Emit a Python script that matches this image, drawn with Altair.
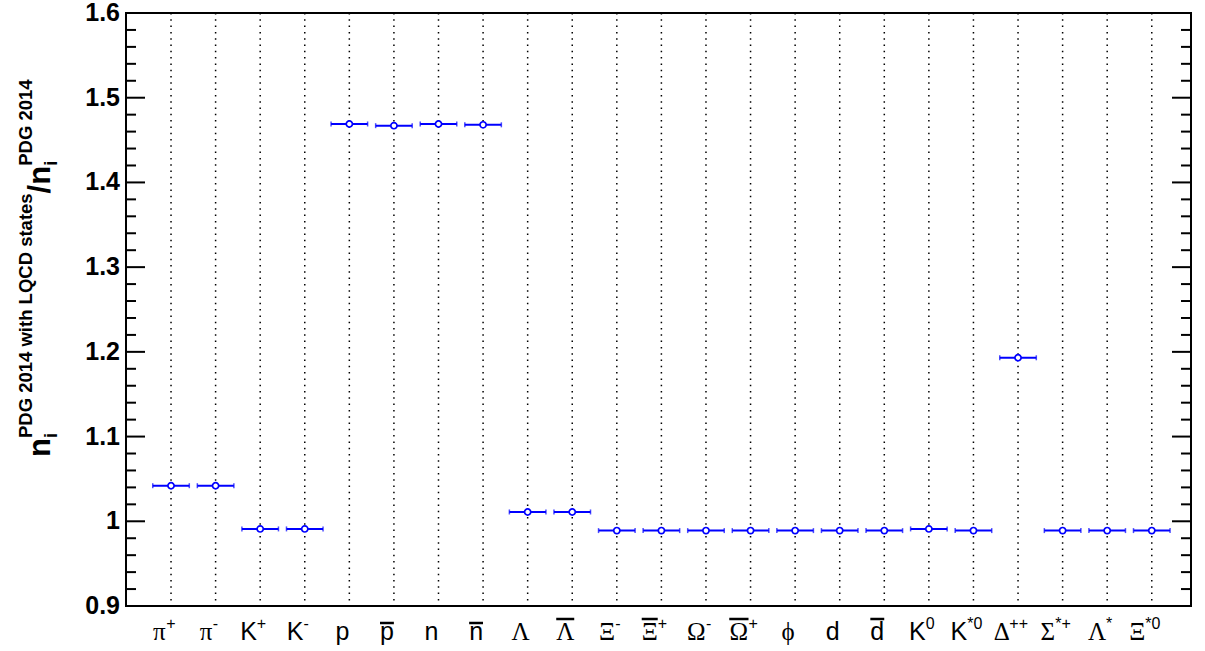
import altair as alt
import numpy as np
import pandas as pd

# Particle species: base glyph, superscript, and whether the glyph carries an overline (antiparticle)
label_base = ["π", "π", "K", "K", "p", "p", "n", "n", "Λ", "Λ", "Ξ", "Ξ",
              "Ω", "Ω", "ϕ", "d", "d", "K", "K", "Δ", "Σ", "Λ", "Ξ"]
label_sup = ["+", "-", "+", "-", "", "", "", "", "", "", "-", "+",
             "-", "+", "", "", "", "0", "*0", "++", "*+", "*", "*0"]
label_bar = [False, False, False, False, False, True, False, True, False, True, False, True,
             False, True, False, False, True, False, False, False, False, False, False]

# Density ratio n_i(PDG2014 + LQCD states) / n_i(PDG2014)
ratio = [1.042, 1.042, 0.991, 0.991, 1.469, 1.467, 1.469, 1.468, 1.011, 1.011, 0.989, 0.989,
         0.989, 0.989, 0.989, 0.989, 0.989, 0.991, 0.989, 1.193, 0.989, 0.989, 0.989]

y_major = [0.9, 1.0, 1.1, 1.2, 1.3, 1.4, 1.5, 1.6]
y_major_labels = ["0.9", "1", "1.1", "1.2", "1.3", "1.4", "1.5", "1.6"]

# ---- layout -------------------------------------------------------------
W, H = 1065, 593
X_DOMAIN = [-1.01, 22.88]
Y_DOMAIN = [0.9, 1.6]
PX = W / (X_DOMAIN[1] - X_DOMAIN[0])   # pixels per category step
BLUE = "#0000ff"
SANS = "Liberation Sans"
SERIF = "Liberation Serif"

xs = alt.Scale(domain=X_DOMAIN, nice=False, zero=False)
ys = alt.Scale(domain=Y_DOMAIN, nice=False, zero=False)

idx = list(range(len(ratio)))
pts = pd.DataFrame({
    "i": idx,
    "ratio": ratio,
    "lo": [i - 0.41 for i in idx],
    "hi": [i + 0.41 for i in idx],
})

# ---- vertical dotted grid at each species --------------------------------
grid = alt.Chart(pts).mark_rule(color="black", strokeWidth=1.5, strokeDash=[1.5, 4.8]).encode(
    x=alt.X("i:Q", scale=xs, axis=None),
    y=alt.value(0), y2=alt.value(H),
)

# ---- horizontal error bars with end caps and open markers ----------------
bars = alt.Chart(pts).mark_rule(color=BLUE, strokeWidth=2).encode(
    x=alt.X("lo:Q", scale=xs, axis=None), x2="hi:Q",
    y=alt.Y("ratio:Q", scale=ys, axis=None),
)
cap_lo = alt.Chart(pts).mark_tick(color=BLUE, orient="vertical", size=5, thickness=1.5).encode(
    x=alt.X("lo:Q", scale=xs, axis=None), y=alt.Y("ratio:Q", scale=ys, axis=None),
)
cap_hi = alt.Chart(pts).mark_tick(color=BLUE, orient="vertical", size=5, thickness=1.5).encode(
    x=alt.X("hi:Q", scale=xs, axis=None), y=alt.Y("ratio:Q", scale=ys, axis=None),
)
markers = alt.Chart(pts).mark_point(
    shape="circle", size=38, filled=False, fill="white", fillOpacity=1,
    stroke=BLUE, strokeWidth=1.7, opacity=1,
).encode(
    x=alt.X("i:Q", scale=xs, axis=None), y=alt.Y("ratio:Q", scale=ys, axis=None),
)

# ---- y ticks (inward, both sides) and labels -----------------------------
minor_vals = [round(v, 2) for v in np.arange(0.92, 1.6, 0.02) if abs(v * 10 - round(v * 10)) > 1e-6]
major_df = pd.DataFrame({"v": y_major, "lab": y_major_labels})
minor_df = pd.DataFrame({"v": minor_vals})


def tick_layer(df, length, right):
    x0, x1 = (W - length, W) if right else (0, length)
    return alt.Chart(df).mark_rule(color="black", strokeWidth=2).encode(
        y=alt.Y("v:Q", scale=ys, axis=None), x=alt.value(x0), x2=alt.value(x1),
    )


ticks = [tick_layer(major_df, 19, False), tick_layer(major_df, 19, True),
         tick_layer(minor_df, 10, False), tick_layer(minor_df, 10, True)]

ylabels = alt.Chart(major_df).mark_text(
    align="right", baseline="middle", font=SANS, fontWeight="bold", fontSize=25, color="black",
).encode(
    y=alt.Y("v:Q", scale=ys, axis=None), x=alt.value(-6), text="lab:N",
)

# ---- species labels under the frame --------------------------------------
BASE_FS, SUP_FS = 25, 16
SANS_EM = {"K": 0.667, "p": 0.556, "n": 0.556, "d": 0.556,
           "+": 0.584, "-": 0.333, "*": 0.389, "0": 0.556}
SERIF_EM = {"π": 0.55, "Λ": 0.72, "Ξ": 0.64, "Ω": 0.77, "ϕ": 0.60, "Δ": 0.61, "Σ": 0.60}
LABEL_SHIFT = -7      # px; composite labels sit slightly left of the bin centre
BASE_Y = 627          # baseline of the species glyphs (px below plot top)
SUP_Y = 616

rows = []
for i, (b, s, bar) in enumerate(zip(label_base, label_sup, label_bar)):
    greek = b in SERIF_EM
    bw = (SERIF_EM[b] if greek else SANS_EM[b]) * BASE_FS
    sw = sum(SANS_EM[c] for c in s) * SUP_FS
    left = LABEL_SHIFT - (bw + sw) / 2
    rows.append({
        "base": b, "sup": s, "greek": greek, "bar": bar,
        "bx": i + (left + bw / 2) / PX,
        "sx": i + (left + bw) / PX,
        "bx1": i + left / PX,
        "bx2": i + (left + bw) / PX,
        "tall": b not in ("p", "n"),
    })
lab = pd.DataFrame(rows)

base_sans = alt.Chart(lab[~lab.greek]).mark_text(
    align="center", baseline="alphabetic", font=SANS, fontSize=BASE_FS, color="black",
).encode(x=alt.X("bx:Q", scale=xs, axis=None), y=alt.value(BASE_Y), text="base:N")
base_greek = alt.Chart(lab[lab.greek]).mark_text(
    align="center", baseline="alphabetic", font=SERIF, fontSize=BASE_FS, color="black",
).encode(x=alt.X("bx:Q", scale=xs, axis=None), y=alt.value(BASE_Y), text="base:N")
sups = alt.Chart(lab[lab.sup != ""]).mark_text(
    align="left", baseline="alphabetic", font=SANS, fontSize=SUP_FS, color="black",
).encode(x=alt.X("sx:Q", scale=xs, axis=None), y=alt.value(SUP_Y), text="sup:N")
over_low = alt.Chart(lab[lab.bar & ~lab.tall]).mark_rule(color="black", strokeWidth=2.5).encode(
    x=alt.X("bx1:Q", scale=xs, axis=None), x2="bx2:Q", y=alt.value(610),
)
over_high = alt.Chart(lab[lab.bar & lab.tall]).mark_rule(color="black", strokeWidth=2.5).encode(
    x=alt.X("bx1:Q", scale=xs, axis=None), x2="bx2:Q", y=alt.value(606),
)

# ---- rotated y title: n_i^{PDG 2014 with LQCD states} / n_i^{PDG 2014} ----
BOLD_EM = {"n": 0.611, "i": 0.278, "/": 0.278, " ": 0.278, "P": 0.667, "D": 0.722, "G": 0.778,
           "0": 0.556, "1": 0.556, "2": 0.556, "4": 0.556, "w": 0.778, "t": 0.333, "h": 0.611,
           "L": 0.611, "Q": 0.778, "C": 0.722, "s": 0.556, "a": 0.556, "e": 0.556}
MAIN_FS, SCRIPT_FS = 31, 18.5
MAIN_X, SUB_X, SUP_X = -76, -69, -94


def bw(text, fs):
    return sum(BOLD_EM.get(c, 0.556) for c in text) * fs


title_pieces = []
ypos = 444
for part, sup in [("n", "PDG 2014 with LQCD states"), ("n", "PDG 2014")]:
    title_pieces.append((part, MAIN_FS, MAIN_X, ypos))
    ypos -= bw(part, MAIN_FS)
    title_pieces.append(("i", SCRIPT_FS, SUB_X, ypos))
    title_pieces.append((sup, SCRIPT_FS, SUP_X, ypos))
    ypos -= max(bw(sup, SCRIPT_FS), bw("i", SCRIPT_FS))
    if sup != "PDG 2014":
        title_pieces.append(("/", MAIN_FS, MAIN_X, ypos))
        ypos -= bw("/", MAIN_FS)

title_layers = [
    alt.Chart(pd.DataFrame({"t": [t]})).mark_text(
        angle=270, align="left", baseline="alphabetic", font=SANS, fontWeight="bold",
        fontSize=fs, color="black",
    ).encode(x=alt.value(px), y=alt.value(py), text="t:N")
    for t, fs, px, py in title_pieces
]

chart = alt.layer(
    grid, *ticks, bars, cap_lo, cap_hi, markers, ylabels,
    base_sans, base_greek, sups, over_low, over_high, *title_layers,
).properties(
    width=W, height=H,
    autosize=alt.AutoSizeParams(type="none"),
    padding={"left": 126, "top": 13, "right": 14, "bottom": 45},
    background="white",
).configure_view(stroke="black", strokeWidth=2)

chart.save("out.html", embed_options={"renderer": "svg", "actions": False})
